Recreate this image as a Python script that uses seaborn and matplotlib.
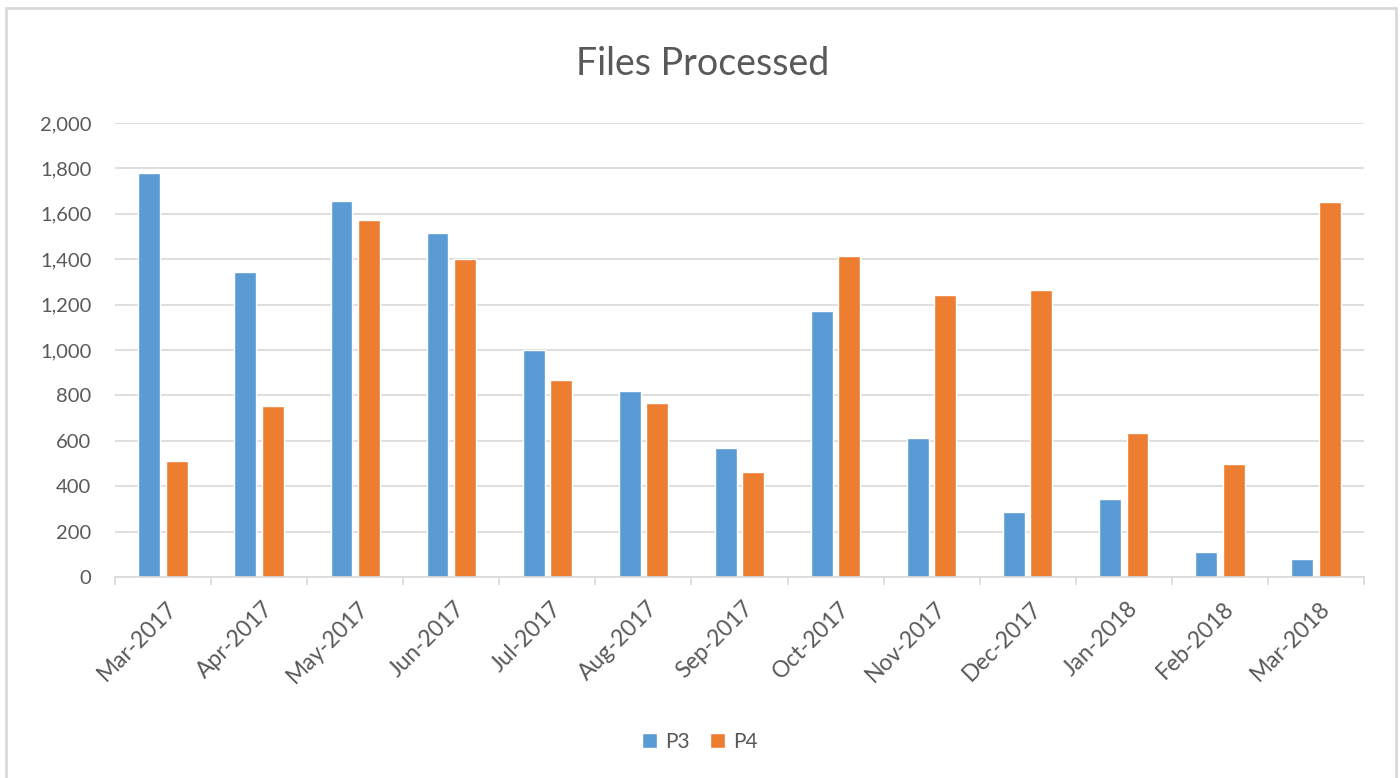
import pandas as pd
import matplotlib.pyplot as plt
import matplotlib.transforms as mtransforms
from matplotlib.patches import Rectangle
from matplotlib.ticker import FuncFormatter, FixedLocator
import seaborn as sns

# Values
months = ['Mar-2017', 'Apr-2017', 'May-2017', 'Jun-2017', 'Jul-2017', 'Aug-2017',
          'Sep-2017', 'Oct-2017', 'Nov-2017', 'Dec-2017', 'Jan-2018', 'Feb-2018', 'Mar-2018']
p3 = [1780, 1344, 1658, 1515, 1000, 819, 570, 1170, 614, 288, 345, 110, 78]
p4 = [511, 755, 1574, 1401, 869, 768, 461, 1414, 1241, 1266, 634, 499, 1650]
series = ['P3', 'P4']
colors = ['#5B9BD5', '#ED7D31']

df = pd.DataFrame({'Month': months * 2,
                   'Files': p3 + p4,
                   'Series': ['P3'] * len(months) + ['P4'] * len(months)})

sns.set_theme(style='white')
plt.rcParams['font.family'] = ['Lato', 'DejaVu Sans']
text_color = '#595959'
grid_color = '#D9D9D9'

fig = plt.figure(figsize=(14, 7.78), dpi=100)
ax = fig.add_axes([0.0821, 0.2584, 0.8922, 0.5835])

sns.barplot(data=df, x='Month', y='Files', hue='Series', palette=colors,
            width=0.57, gap=0.2, ax=ax, saturation=1, legend=True)

ax.set_ylim(0, 2000)
ax.set_yticks(range(0, 2001, 200))
ax.yaxis.set_major_formatter(FuncFormatter(lambda v, p: f'{int(v):,}'))
ax.set_xlim(-0.5, len(months) - 0.5)
ax.grid(axis='y', color=grid_color, linewidth=1.2)
ax.set_axisbelow(True)
ax.set_xlabel('')
ax.set_ylabel('')

for side in ['top', 'right', 'left']:
    ax.spines[side].set_visible(False)
ax.spines['bottom'].set_color(grid_color)
ax.spines['bottom'].set_linewidth(1.2)

# category boundary ticks
ax.xaxis.set_minor_locator(FixedLocator([i - 0.5 for i in range(len(months) + 1)]))
ax.tick_params(axis='x', which='minor', length=6, width=1.2, color=grid_color, bottom=True)
ax.tick_params(axis='x', which='major', length=0, pad=15, labelsize=16.5, labelcolor=text_color)
ax.tick_params(axis='y', length=0, pad=17, labelsize=14.5, labelcolor=text_color)

offset = mtransforms.ScaledTranslation(0.03, 0, fig.dpi_scale_trans)
for lbl in ax.get_xticklabels():
    lbl.set_rotation(45)
    lbl.set_ha('right')
    lbl.set_va('top')
    lbl.set_rotation_mode('anchor')
    lbl.set_transform(lbl.get_transform() + offset)

# title is centred on the whole chart, not on the plot area
fig.text(0.502, 1 - 75 / 778, 'Files Processed', fontsize=27, color=text_color,
         ha='center', va='baseline')

handles, labels = ax.get_legend_handles_labels()
ax.get_legend().remove()
fig.legend(handles, labels, loc='center', bbox_to_anchor=(0.5, 1 - 742 / 778),
           ncol=2, frameon=False, fontsize=15, labelcolor=text_color,
           handlelength=0.7, handleheight=0.7, handletextpad=0.4, columnspacing=1.0)

# light outer chart frame
fig.patches.append(Rectangle((6 / 1400, -0.01), 1390 / 1400, 1 - 8 / 778 + 0.01,
                             transform=fig.transFigure, fill=False,
                             edgecolor=grid_color, linewidth=2))

fig.savefig('out.png', dpi=100)
